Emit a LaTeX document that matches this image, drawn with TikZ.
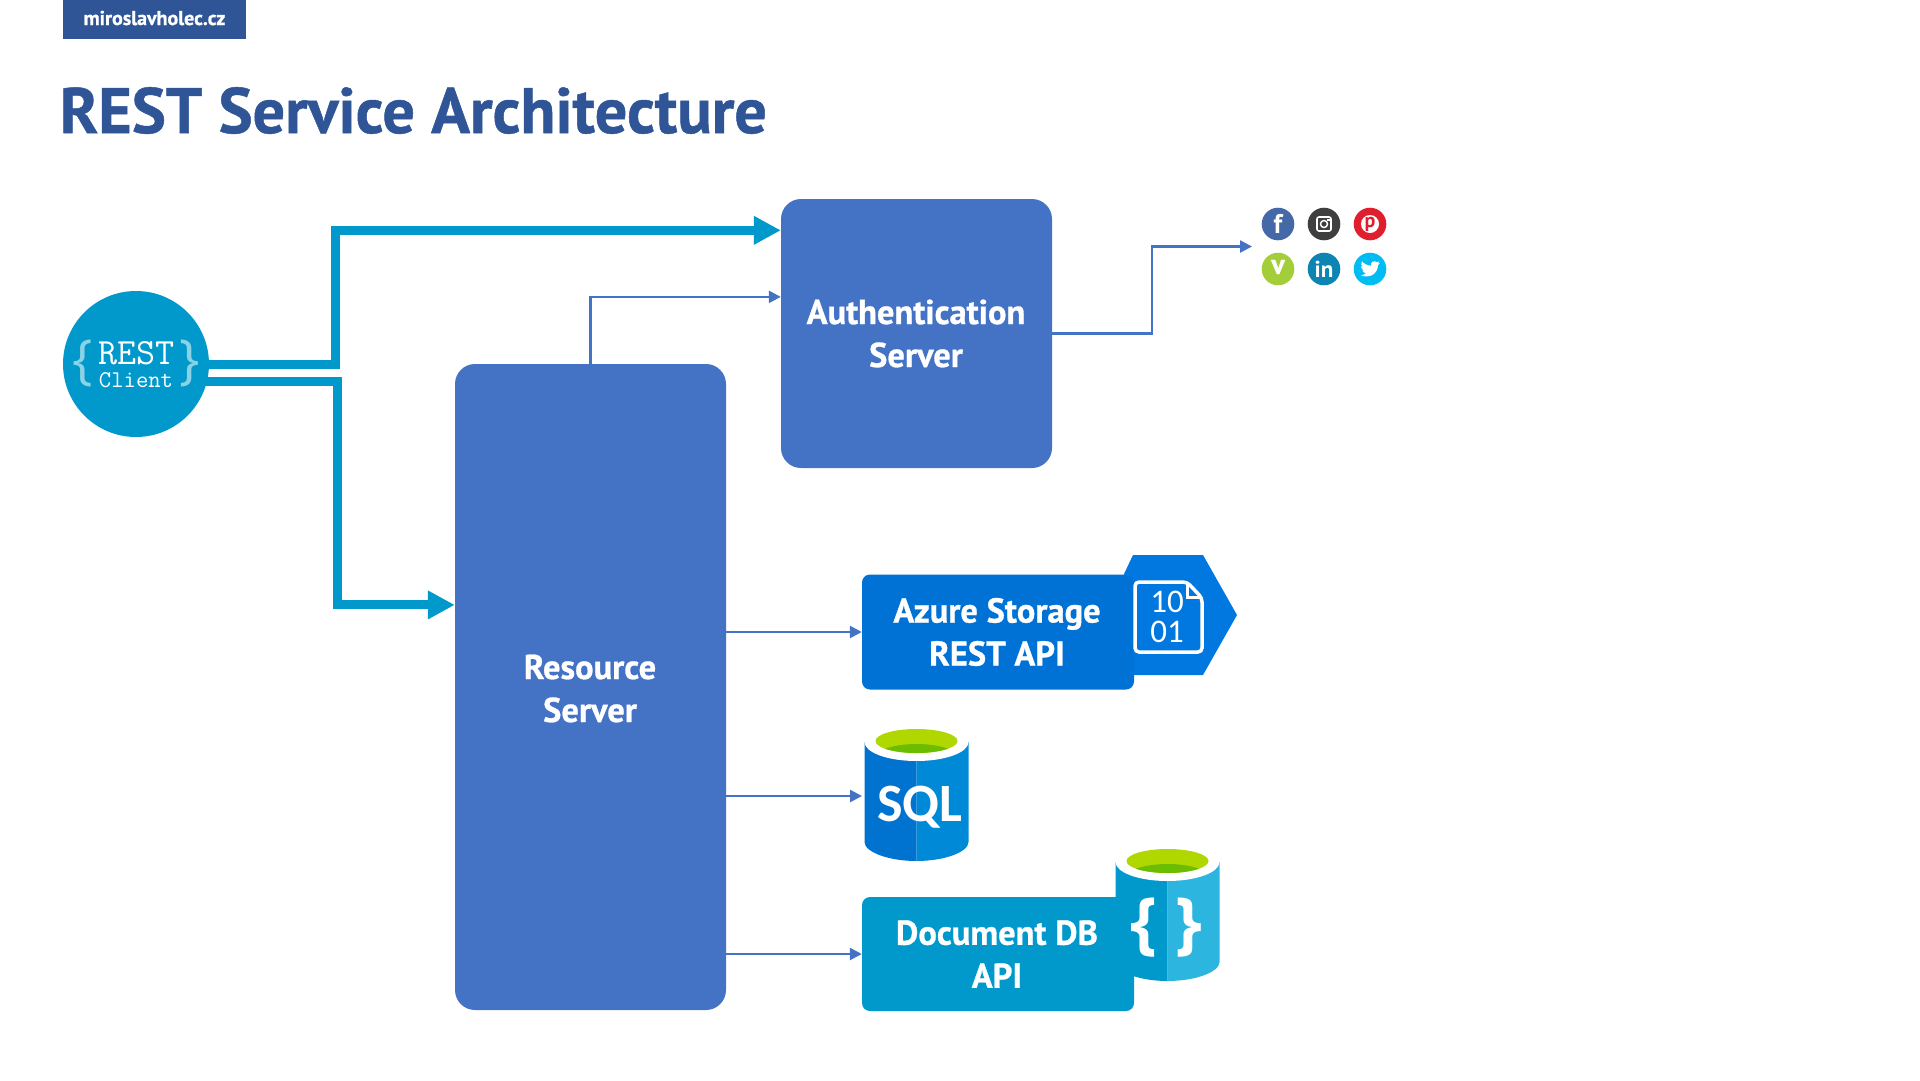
\documentclass[tikz,border=0pt]{standalone}
\usepackage{fontspec}
\setmainfont{PT Sans}
\newfontfamily\carlitofont{Carlito}
\newfontfamily\opensansfont{Open Sans}
\usetikzlibrary{calc}
\usetikzlibrary{arrows.meta}
\definecolor{titleblue}{HTML}{2F5597}
\definecolor{serverblue}{HTML}{4472C4}
\definecolor{clientcyan}{HTML}{0199CB}
\definecolor{bracecyan}{HTML}{8AD3E6}
\definecolor{storageblue}{HTML}{0072D6}
\definecolor{hexblue}{HTML}{0078E0}
\definecolor{docbarrel}{HTML}{2BB5DF}
\definecolor{sqlleft}{HTML}{0072CF}
\definecolor{sqlright}{HTML}{0089D6}
\definecolor{greenlight}{HTML}{B0D800}
\definecolor{greendark}{HTML}{6CBC00}
\definecolor{fbcol}{HTML}{4468A8}
\definecolor{instacol}{HTML}{3F3F3F}
\definecolor{pincol}{HTML}{E01F2E}
\definecolor{vimcol}{HTML}{A4CE39}
\definecolor{lincol}{HTML}{0D85B3}
\definecolor{twitcol}{HTML}{00BCF2}
\newcommand{\heavy}{\bfseries\addfontfeature{FakeBold=0.8}}
\tikzset{
  x=1pt, y=-1pt,
  server/.style={
    rounded corners=20pt, fill=serverblue, inner sep=0pt
  },
  apibox/.style={
    rounded corners=8pt, inner sep=0pt, minimum width=272pt
  },
  box text/.style={
    text=white, inner sep=0pt, align=center,
    font=\fontsize{34.5}{43}\selectfont\heavy
  },
  fat arrow/.style={
    line width=9pt, draw=clientcyan,
    -{Triangle[width=27pt, length=27pt]}
  },
  thin arrow/.style={
    line width=2.5pt, draw=serverblue,
    -{Triangle[width=12pt, length=12pt]}
  },
  social/.style={
    circle, minimum width=32.6pt, inner sep=0pt, text=white
  }
}
\newcommand{\drawbarrel}[3]{
  \begin{scope}[shift={#1}]
    \fill[#2] (-52,0) -- (-52,100) .. controls (-52,110) and (-28,119) .. (0,119) -- (0,0) -- cycle;
    \fill[#3] (52,0) -- (52,100) .. controls (52,110) and (28,119) .. (0,119) -- (0,0) -- cycle;
    \fill[white] (0,0) ellipse [x radius=52, y radius=19];
    \fill[greenlight] (0,-1) ellipse [x radius=41, y radius=12];
    \begin{scope}
      \clip (0,-1) ellipse [x radius=41, y radius=12];
      \fill[greendark] (0,16) ellipse [x radius=42, y radius=14];
    \end{scope}
  \end{scope}
}

\begin{document}
\begin{tikzpicture}
  \useasboundingbox (0,0) rectangle (1920,1080);
  % header
  \node[fill=titleblue, minimum width=183pt, minimum height=39pt, inner sep=0pt] (banner) at (154.5,19.5) {};
  \node[anchor=base, text=white, font=\fontsize{20}{24}\selectfont\heavy] (site) at (154.5,25) {miroslavholec.cz};
  \node[anchor=base west, inner sep=0pt, text=titleblue, font=\fontsize{64.2}{78}\selectfont\heavy] (title) at (59.5,133) {REST Service Architecture};
  % client
  \node[circle, fill=clientcyan, minimum width=146pt, inner sep=0pt] (client) at (136,364) {};
  \node[text=white, inner sep=0pt, font=\fontsize{37}{40}\ttfamily] (rest) at (136.5,353) {REST};
  \node[text=white, inner sep=0pt, font=\fontsize{24}{28}\ttfamily] (clientname) at (136,380) {Client};
  \node[text=bracecyan, font=\fontsize{54}{60}\opensansfont] (braceA) at (82.5,363) {\{};
  \node[text=bracecyan, font=\fontsize{54}{60}\opensansfont] (braceB) at (189.5,363) {\}};
  % servers
  \node[server, minimum width=271pt, minimum height=646pt] (resource) at (590.5,687) {};
  \node[box text] (resourcetext) at (590,688.5) {Resource\\Server};
  \node[server, minimum width=271pt, minimum height=269pt] (auth) at (916.5,333.5) {};
  \node[box text] (authtext) at (916,333.5) {Authentication\\Server};
  % storage
  \fill[hexblue] (1124,574) -- (1133,555) -- (1203,555) -- (1237,615) -- (1203,675) -- (1134,675) -- cycle;
  \node[apibox, fill=storageblue, minimum height=115pt] (storage) at (998,632) {};
  \node[box text] (storagetext) at (997,632) {Azure Storage\\REST API};
  \draw[white, line width=3.5pt, rounded corners=4pt] (1135,582) -- (1187,582) -- (1202,598) -- (1202,652) -- (1135,652) -- cycle;
  \draw[white, line width=3pt] (1187,582) -- (1187,597) -- (1202,597);
  \node[text=white, inner sep=0pt, font=\fontsize{33}{36}\carlitofont] (bitsA) at (1167,602) {10};
  \node[text=white, inner sep=0pt, font=\fontsize{33}{36}\carlitofont] (bitsB) at (1167,632) {01};
  % sql
  \drawbarrel{(916.5,742)}{sqlleft}{sqlright}
  \node[text=white, font=\fontsize{54}{60}\carlitofont\bfseries] (sql) at (920,807) {SQL};
  \coordinate (sqlin) at (862,796);
  % document db
  \drawbarrel{(1167.5,862)}{clientcyan}{docbarrel}
  \node[apibox, fill=clientcyan, minimum height=114pt] (docdb) at (998,954) {};
  \node[box text] (docdbtext) at (997,954) {Document DB\\API};
  \node[text=white, font=\fontsize{68}{80}\opensansfont\bfseries] (docA) at (1144,928) {\{};
  \node[text=white, font=\fontsize{68}{80}\opensansfont\bfseries] (docB) at (1189,928) {\}};
  % social icons
  \foreach \name/\x/\y in {fb/1278/224, insta/1324/224, pin/1370/224,
    vim/1278/269, lin/1324/269, twit/1370/269}{
    \node[social, fill=\name col] (\name) at (\x,\y) {};
  }
  \node[text=white, font=\fontsize{27}{30}\selectfont\bfseries] at (fb) {f};
  \draw[white, line width=1.6pt, rounded corners=2pt] ($(insta)+(-7,-7)$) rectangle ($(insta)+(7,7)$);
  \draw[white, line width=1.4pt] (insta) circle [radius=3.5];
  \fill[white] ($(insta)+(3,-5.5)$) rectangle ($(insta)+(5.5,-3)$);
  \fill[white] (pin) circle [radius=9];
  \node[text=pincol, font=\fontsize{20}{24}\selectfont\bfseries] at (pin) {p};
  \node[text=white, font=\fontsize{28}{30}\selectfont\heavy] at ($(vim)+(0,-2)$) {v};
  \node[text=white, font=\fontsize{23}{26}\selectfont\bfseries] at (lin) {in};
  \begin{scope}[shift={(twit)}, scale=0.9]
    \fill[white] (-10,7) .. controls (-3,10) and (8,8) .. (9,-4.5) -- (11,-6.5) -- (8.7,-6) -- (10.3,-8.5) -- (7.8,-7.5)
      .. controls (5,-10) and (0,-8) .. (1,-3.5) .. controls (-3,-4) and (-7,-6) .. (-9,-8.5)
      .. controls (-10.5,-6) and (-9.5,-3.5) .. (-8,-2.5) -- (-10,-3) .. controls (-10,-0.5) and (-8.5,1) .. (-6.5,1.5)
      -- (-8.5,1.7) .. controls (-8,3.5) and (-6,4.5) .. (-4.5,4.5) .. controls (-6,6) and (-8,7) .. (-10,7) -- cycle;
  \end{scope}
  % connectors
  \coordinate (clientup) at ($(client.center)+(72,0.5)$);
  \coordinate (clientdown) at ($(client.center)+(69,17.5)$);
  \coordinate (authfat) at ($(auth.north west)!0.117!(auth.south west)$);
  \coordinate (auththin) at ($(auth.north west)!0.364!(auth.south west)$);
  \coordinate (resfat) at ($(resource.north west)!0.373!(resource.south west)$);
  \coordinate (resstorage) at (storage.west-|resource.east);
  \coordinate (ressql) at (sqlin-|resource.east);
  \coordinate (resdoc) at (docdb.west-|resource.east);
  \coordinate (socialin) at (1252,246.5);
  \draw[fat arrow] (clientup) -- (335.5,364.5) |- (authfat);
  \draw[fat arrow] (clientdown) -- (337.5,381.5) |- (resfat);
  \draw[thin arrow] (resource.north) |- (auththin);
  \draw[thin arrow] (auth.east) -| (1152,246.5) -- (socialin);
  \draw[thin arrow] (resstorage) -- (storage.west);
  \draw[thin arrow] (ressql) -- (sqlin);
  \draw[thin arrow] (resdoc) -- (docdb.west);
\end{tikzpicture}
\end{document}
